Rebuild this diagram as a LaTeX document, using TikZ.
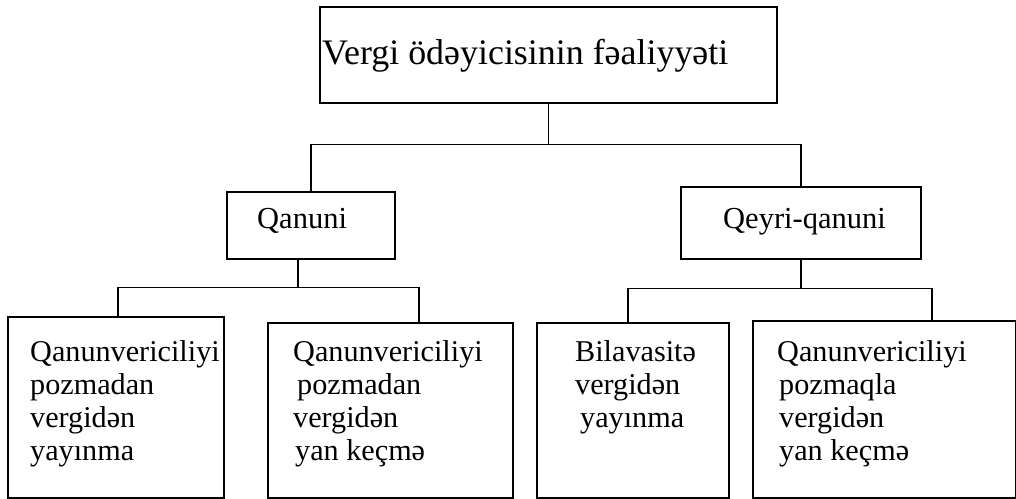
\documentclass[tikz,border=0pt]{standalone}
\usepackage{fontspec}
\setmainfont{Liberation Serif}
\begin{document}
\begin{tikzpicture}[x=1pt,y=-1pt,
  boxst/.style={draw,line width=1.6pt,rectangle,inner sep=0pt,anchor=north west},
  wire/.style={line width=1.6pt},
  bigtxt/.style={inner sep=0pt,anchor=base west,font=\fontsize{35.9}{42}\selectfont},
  midtxt/.style={inner sep=0pt,anchor=base west,font=\fontsize{30.5}{33}\selectfont},
  lowtxt/.style={inner sep=0pt,anchor=base west,align=left,font=\fontsize{30.2}{33}\selectfont}]
\useasboundingbox (0,0) rectangle (1016,498);
% boxes
\node[boxst,minimum width=457pt,minimum height=96pt] (top) at (319,6) {};
\node[boxst,minimum width=168pt,minimum height=67pt] (q) at (226,191) {};
\node[boxst,minimum width=240pt,minimum height=72pt] (qq) at (680,186) {};
\node[boxst,minimum width=216pt,minimum height=181pt] (b1) at (7,316) {};
\node[boxst,minimum width=245pt,minimum height=175pt] (b2) at (267,322) {};
\node[boxst,minimum width=192pt,minimum height=175pt] (b3) at (536,322) {};
\node[boxst,minimum width=263pt,minimum height=177pt] (b4) at (752,320) {};
% texts (base anchor = baseline of last line)
\node[bigtxt] (ttop) at (322,64) {Vergi ödəyicisinin fəaliyyəti};
\node[midtxt] (tq) at (257,228) {Qanuni};
\node[midtxt] (tqq) at (723,228) {Qeyri-qanuni};
\node[lowtxt] (t1) at (30,460) {Qanunvericiliyi\\pozmadan\\vergidən\\yayınma};
\node[lowtxt] (t2) at (293,460) {Qanunvericiliyi\\\hspace*{4pt}pozmadan\\vergidən\\\hspace*{2pt}yan keçmə};
\node[lowtxt] (t3) at (575,427) {Bilavasitə\\vergidən\\\hspace*{5pt}yayınma};
\node[lowtxt] (t4) at (777,460) {Qanunvericiliyi\\\hspace*{2pt}pozmaqla\\\hspace*{2pt}vergidən\\\hspace*{2pt}yan keçmə};
% connectors
\coordinate (h1) at ([yshift=-41pt]top.south);
\draw[wire] (top.south) -- (h1);
\draw[wire] (q.north) |- (h1) -| (qq.north);
\coordinate (qb) at ([xshift=72pt]q.south west);
\coordinate (h2) at ([yshift=-28pt]qb);
\draw[wire] (qb) -- (h2);
\draw[wire] ([xshift=111pt]b1.north west) |- (h2) -| ([xshift=152pt]b2.north west);
\coordinate (h3) at ([yshift=-29pt]qq.south);
\draw[wire] (qq.south) -- (h3);
\draw[wire] ([xshift=92pt]b3.north west) |- (h3) -| ([xshift=180pt]b4.north west);
\end{tikzpicture}
\end{document}
